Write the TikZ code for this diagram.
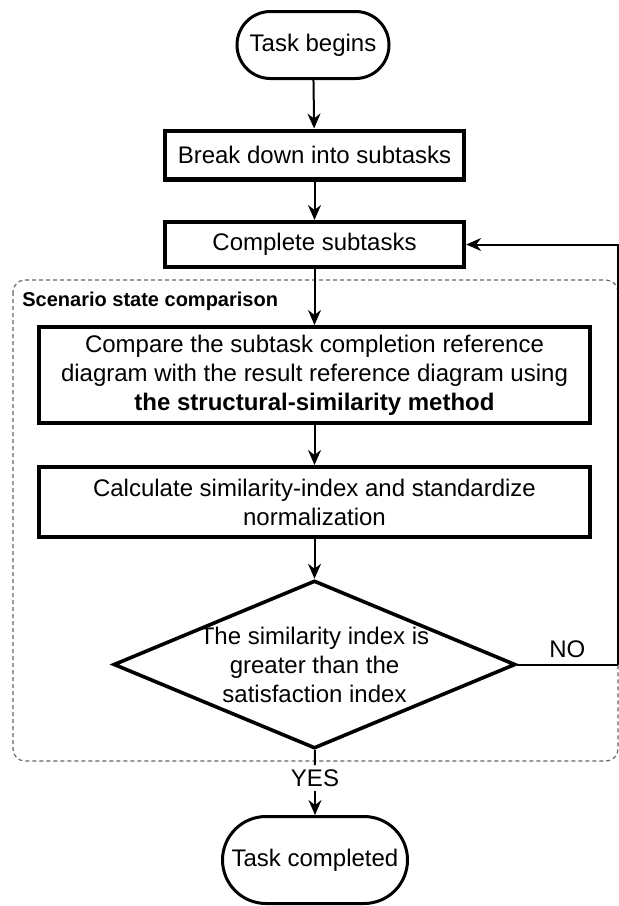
\documentclass[tikz,border=0pt]{standalone}
\usepackage{fontspec}
\setmainfont{Liberation Sans}
\usetikzlibrary{arrows.meta,shapes.geometric}

\begin{document}
\begin{tikzpicture}[x=0.5pt, y=-0.5pt]
    \useasboundingbox (0,0) rectangle (619,906);
    \tikzset{
      Base/.style = {draw, align=center, inner sep=2pt, font=\fontsize{12}{14.5}\selectfont},
      Terminal/.style = {Base, line width=1.5pt},
      Process/.style = {Base, line width=2.2pt, minimum width=149.5pt},
      Decision/.style = {Base, diamond, line width=1.8pt, aspect=2.37, inner sep=-3pt,
                         minimum width=201pt, minimum height=84pt},
      Label/.style = {inner sep=2pt, font=\fontsize{12}{14.5}\selectfont},
      EdgeStyle/.style = {line width=1pt, -{Stealth[length=7.5pt, width=6.5pt, inset=2.5pt]}},
      Group/.style = {draw=black!60, line width=0.6pt, dash pattern=on 2pt off 1.5pt, rounded corners=6pt}
    }

    % Group
    \draw[Group] (13,280) rectangle (618,761);
    \node[anchor=west, inner sep=0pt, font=\bfseries\fontsize{10}{12}\selectfont] (group) at (22,301) {Scenario state comparison};

    % Vertices
    \node[Terminal, minimum width=76pt, minimum height=33.5pt, rounded corners=16.75pt] (begin) at (313,45) {Task begins};
    \node[Process, minimum height=24.3pt] (split) at (314.5,155) {Break down into subtasks};
    \node[Process, minimum height=22.3pt] (complete) at (314.5,244.5) {Complete subtasks};
    \node[Process, minimum width=275.3pt, minimum height=47.8pt] (compare) at (314.5,375)
      {Compare the subtask completion reference\\diagram with the result reference diagram using\\{\bfseries the structural-similarity method}};
    \node[Process, minimum width=275.3pt, minimum height=34.8pt] (calculate) at (314.5,502)
      {Calculate similarity-index and standardize\\normalization};
    \node[Decision] (decide) at (314.5,664.5) {The similarity index is\\greater than the\\satisfaction index};
    \node[Label] (yes) at (315,778) {YES};
    \node[Terminal, minimum width=92.5pt, minimum height=43.5pt, rounded corners=21.75pt] (finish) at (315,860) {Task completed};
    \coordinate (back) at (617.5,664.5);

    % Edges
    \foreach \a/\b in {begin/split, split/complete, complete/compare, compare/calculate, calculate/decide}
      \draw[EdgeStyle] (\a) -- (\b);
    \draw[line width=1pt] (decide) -- (yes);
    \draw[EdgeStyle] (yes) -- (finish);
    \draw[line width=1pt] (decide) -- node[Label, above=0pt, inner sep=3pt] (no) {NO} (back);
    \draw[EdgeStyle] (back) |- (complete);
  \end{tikzpicture}
\end{document}
